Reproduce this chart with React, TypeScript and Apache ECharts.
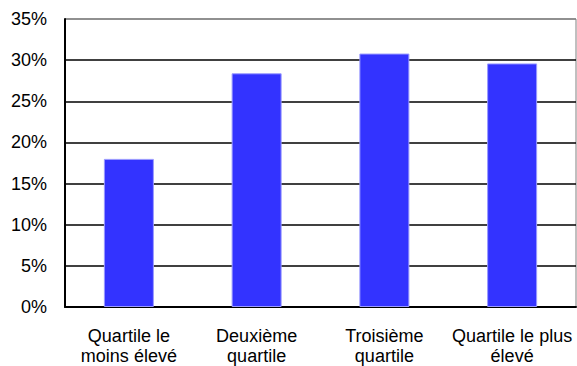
import React, { useEffect, useRef } from "react";
import * as echarts from "echarts";

const categories = [
  "Quartile le\nmoins élevé",
  "Deuxième\nquartile",
  "Troisième\nquartile",
  "Quartile le plus\nélevé",
];
const shares = [18.0, 28.4, 30.8, 29.6];
const yTicks = { min: 0, max: 35, interval: 5 };

const FONT = "'Liberation Sans', Arial, sans-serif";

export default function App() {
  const ref = useRef<HTMLDivElement>(null);

  useEffect(() => {
    if (!ref.current) return;
    const chart = echarts.init(ref.current, undefined, { renderer: "svg" });
    const lineCount = (yTicks.max - yTicks.min) / yTicks.interval + 1;
    const splitColors = Array.from({ length: lineCount }, (_, i) =>
      i === lineCount - 1 ? "#808080" : "#000000"
    );
    chart.setOption({
      animation: false,
      backgroundColor: "#ffffff",
      textStyle: { fontFamily: FONT },
      grid: {
        left: 65,
        right: 1,
        top: 19,
        bottom: 55,
        show: true,
        borderColor: "#808080",
        borderWidth: 1,
        backgroundColor: "transparent",
      },
      xAxis: {
        type: "category",
        data: categories,
        axisLine: { show: true, lineStyle: { color: "#000", width: 2 } },
        axisTick: { show: false },
        axisLabel: {
          color: "#000",
          fontSize: 18,
          fontFamily: FONT,
          lineHeight: 20,
          margin: 19,
          interval: 0,
        },
      },
      yAxis: {
        type: "value",
        min: yTicks.min,
        max: yTicks.max,
        interval: yTicks.interval,
        axisLine: { show: true, lineStyle: { color: "#000", width: 2 } },
        axisTick: { show: false },
        axisLabel: {
          color: "#000",
          fontSize: 18,
          fontFamily: FONT,
          margin: 18,
          padding: [6, 0, 0, 0],
          formatter: "{value}%",
        },
        splitLine: { show: true, lineStyle: { color: splitColors, width: 1.5 } },
      },
      series: [
        {
          type: "bar",
          data: shares,
          barWidth: 50,
          itemStyle: { color: "#3333ff", borderColor: "#9a9aff", borderWidth: 1 },
        },
      ],
    });
    return () => chart.dispose();
  }, []);

  return (
    <div
      ref={ref}
      style={{ position: "fixed", left: 0, top: 0, width: 577, height: 366 }}
    />
  );
}
